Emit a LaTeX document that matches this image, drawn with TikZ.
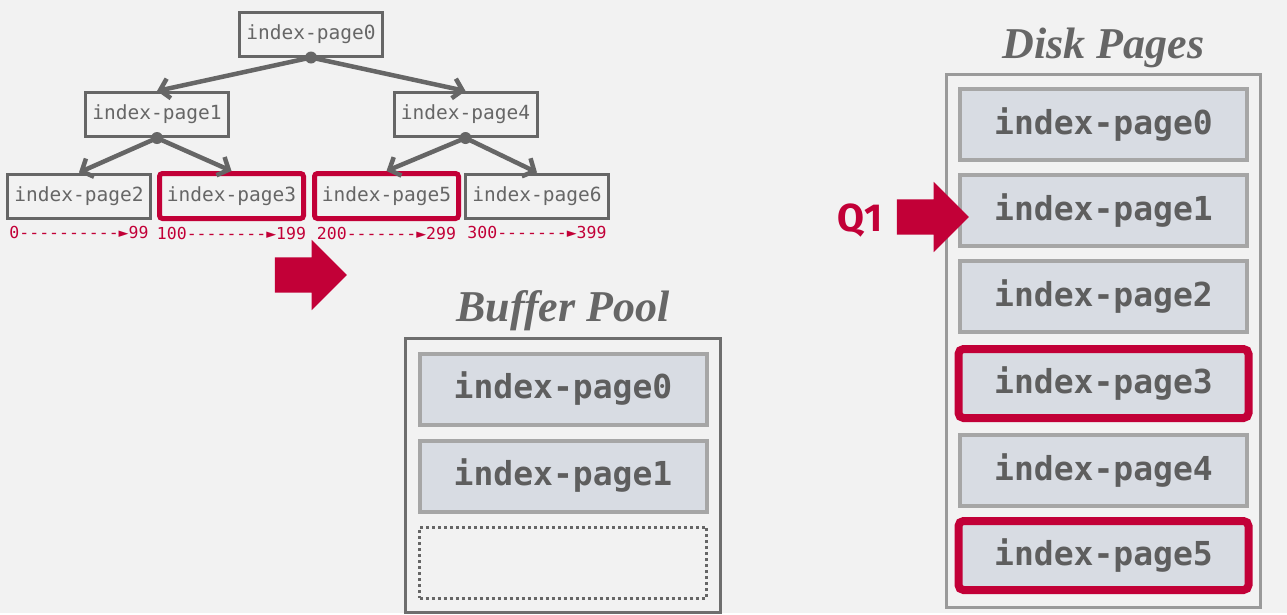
\documentclass[tikz,border=0pt]{standalone}
\usepackage{fontspec}
\setmainfont{Liberation Serif}
\setsansfont{Fira Sans}
\setmonofont{DejaVu Sans Mono}
\usetikzlibrary{positioning,fit,shapes.arrows,arrows.meta}

\definecolor{pagebg}{HTML}{F2F2F2}
\definecolor{treegray}{HTML}{666666}
\definecolor{crimson}{HTML}{C20037}
\definecolor{slotfill}{HTML}{D8DCE3}
\definecolor{slotline}{HTML}{A6A6A6}
\definecolor{slottext}{HTML}{5E5E5E}
\definecolor{bufline}{HTML}{6E6E6E}
\definecolor{diskline}{HTML}{9A9A9A}

\tikzset{
  treebox/.style={draw=treegray, line width=3pt, fill=pagebg, inner sep=0pt,
    minimum width=143pt, minimum height=44pt, text=treegray,
    font=\ttfamily\fontsize{19.5}{20}\selectfont},
  hotbox/.style={treebox, draw=crimson, line width=5pt, rounded corners=3pt,
    minimum width=144pt, minimum height=45pt},
  treeedge/.style={draw=treegray, line width=4.5pt,
    -{Straight Barb[length=9pt,width=20pt]}},
  keyrange/.style={text=crimson, inner sep=0pt,
    font=\ttfamily\fontsize{16.5}{17}\selectfont},
  slot/.style={draw=slotline, line width=4pt, fill=slotfill, inner sep=0pt,
    minimum width=287pt, minimum height=71pt, text=slottext,
    font=\ttfamily\bfseries\fontsize{33}{34}\selectfont},
  hotslot/.style={slot, draw=crimson, line width=8pt, rounded corners=5pt,
    minimum width=290pt, minimum height=69pt},
  emptyslot/.style={slot, draw=treegray, line width=3pt,
    dash pattern=on 3pt off 3pt, fill=pagebg},
  pool/.style={draw=#1, line width=3pt, inner sep=0pt},
  pooltitle/.style={text=treegray, inner sep=0pt,
    font=\bfseries\itshape\fontsize{44}{46}\selectfont},
  bigarrow/.style={single arrow, fill=crimson, inner xsep=0pt, inner ysep=17.5pt,
    minimum height=72pt, single arrow head extend=17.5pt,
    single arrow head indent=0pt},
  qlabel/.style={text=crimson, inner sep=0pt,
    font=\sffamily\bfseries\fontsize{39}{40}\selectfont}
}

\begin{document}
\begin{tikzpicture}[x=1pt, y=-1pt]
  \fill[pagebg] (0,0) rectangle (1287,613);

  % index tree
  \node[treebox] (root) at (311,34) {index-page0};
  \node[treebox] (page1) at (157,114.5) {index-page1};
  \node[treebox] (page4) at (465.5,114.5) {index-page4};

  \node[treebox] (page2) at (79,196) {index-page2};
  \node[hotbox, right=5pt of page2] (page3) {index-page3};
  \node[hotbox, right=6pt of page3] (page5) {index-page5};
  \node[treebox, right=3pt of page5] (page6) {index-page6};

  % key ranges
  \node[keyrange, below=7pt of page2] (range2) {0----------►99};
  \node[keyrange, below=6pt of page3] (range3) {100--------►199};
  \node[keyrange, below=6pt of page5] (range5) {200-------►299};
  \node[keyrange, below=7pt of page6] (range6) {300-------►399};

  % edges
  \draw[treeedge] (root.south) -- (page1.north);
  \draw[treeedge] (root.south) -- (page4.north);
  \draw[treeedge] (page1.south) -- (page2.north);
  \draw[treeedge] (page1.south) -- (page3.north);
  \draw[treeedge] (page4.south) -- (page5.north);
  \draw[treeedge] (page4.south) -- (page6.north);
  \fill[treegray] (root.south) circle (6pt);
  \fill[treegray] (page1.south) circle (6pt);
  \fill[treegray] (page4.south) circle (6pt);

  \node[bigarrow] (fetch) at (302,275) {};

  % buffer pool
  \node[slot] (buf0) at (563,389) {index-page0};
  \node[slot, below=12pt of buf0] (buf1) {index-page1};
  \node[emptyslot, below=12pt of buf1] (buf2) {};
  \node[pool=bufline, inner xsep=12pt, inner ysep=13pt, fit=(buf0)(buf1)(buf2)] (bufpool) {};
  \node[pooltitle, above=6pt of bufpool] (buftitle) {Buffer Pool};

  % disk pages
  \node[slot] (disk0) at (1103.5,124.5) {index-page0};
  \node[slot, below=11pt of disk0] (disk1) {index-page1};
  \node[slot, below=11pt of disk1] (disk2) {index-page2};
  \node[hotslot, below=11pt of disk2] (disk3) {index-page3};
  \node[slot, below=11pt of disk3] (disk4) {index-page4};
  \node[hotslot, below=9pt of disk4] (disk5) {index-page5};
  \node[pool=diskline, inner xsep=8pt, inner ysep=13pt, fit=(disk0)(disk5)] (disk) {};
  \node[pooltitle, above=4pt of disk] (disktitle) {Disk Pages};

  \node[bigarrow] (q1arrow) at (924,217) {};
  \node[qlabel, left=14pt of q1arrow, yshift=-4pt] (q1) {Q1};
\end{tikzpicture}
\end{document}
